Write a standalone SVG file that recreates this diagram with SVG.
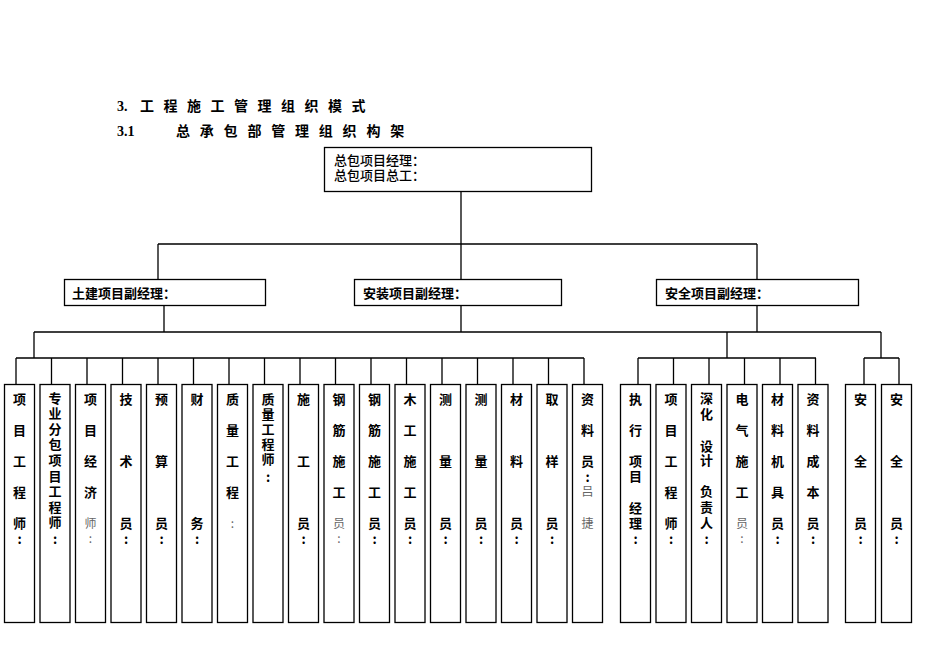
<svg xmlns="http://www.w3.org/2000/svg" width="950" height="672" viewBox="0 0 950 672">
<style>
.bx{fill:#fff;stroke:#000;stroke-width:1.3}
.ln{fill:none;stroke:#000;stroke-width:1.3}
.h{font-family:"Liberation Serif","Noto Sans CJK SC",serif;font-size:14px;font-weight:bold;fill:#000}
.t{font-family:"Noto Sans CJK SC",sans-serif;font-size:13px;font-weight:500;fill:#000}
.m{font-family:"Noto Sans CJK SC",sans-serif;font-size:13px;font-weight:bold;fill:#000}
.v text{font-family:"Noto Sans CJK SC",sans-serif;font-size:13px;font-weight:bold;fill:#000;text-anchor:middle;dominant-baseline:central}
.v text.g{font-size:12px;font-weight:normal;fill:#666}
</style>
<rect width="950" height="672" fill="#fff"/>
<g id="title">
<text class="h" x="117" y="111">3.</text>
<text class="h" text-anchor="middle"><tspan x="147" y="111">工</tspan><tspan x="170.5" y="111">程</tspan><tspan x="194" y="111">施</tspan><tspan x="217.5" y="111">工</tspan><tspan x="241" y="111">管</tspan><tspan x="264.5" y="111">理</tspan><tspan x="288" y="111">组</tspan><tspan x="311.5" y="111">织</tspan><tspan x="335" y="111">模</tspan><tspan x="358.5" y="111">式</tspan></text>
<text class="h" x="117" y="136">3.1</text>
<text class="h" text-anchor="middle"><tspan x="183" y="136">总</tspan><tspan x="206.8" y="136">承</tspan><tspan x="230.6" y="136">包</tspan><tspan x="254.4" y="136">部</tspan><tspan x="278.2" y="136">管</tspan><tspan x="302" y="136">理</tspan><tspan x="325.8" y="136">组</tspan><tspan x="349.6" y="136">织</tspan><tspan x="373.4" y="136">构</tspan><tspan x="397.2" y="136">架</tspan></text>
</g>
<g id="connectors">
<path class="ln" d="M461 191V244M158 244H757M158 244V279M461 244V279M757 244V279M164 305V332M461 305V332M757 305V332M34 332H881M34 332V358M727 332V358M881 332V358"/>
<path class="ln" d="M16 358H584M16 358V384M51.5 358V384M87 358V384M122.5 358V384M158 358V384M193.5 358V384M229 358V384M264.5 358V384M300 358V384M335.5 358V384M371 358V384M406.5 358V384M442 358V384M477.5 358V384M513 358V384M548.5 358V384M584 358V384"/>
<path class="ln" d="M638 358H816M638 358V384M673.5 358V384M709 358V384M744.5 358V384M780 358V384M815.5 358V384M864 358H899M864 358V384M899 358V384"/>
</g>
<g id="n-top"><rect class="bx" x="324.5" y="147.5" width="267" height="44"/><text class="t" x="334" y="165">总包项目经理：</text><text class="t" x="334" y="180">总包项目总工：</text></g>
<g id="n-tujian"><rect class="bx" x="64.5" y="279.5" width="201" height="26"/><text class="m" x="72" y="297.5">土建项目副经理：</text></g>
<g id="n-anzhuang"><rect class="bx" x="354.5" y="279.5" width="207" height="26"/><text class="m" x="363" y="297.5">安装项目副经理：</text></g>
<g id="n-anquan"><rect class="bx" x="656.5" y="279.5" width="202" height="26"/><text class="m" x="665" y="297.5">安全项目副经理：</text></g>
<g id="b1" class="v"><rect class="bx" x="4.5" y="384.5" width="30" height="238"/><text x="19.5" y="398">项</text><text x="19.5" y="429">目</text><text x="19.5" y="460">工</text><text x="19.5" y="491">程</text><text x="19.5" y="522">师</text><text x="19.5" y="538">:</text></g>
<g id="b2" class="v"><rect class="bx" x="40" y="384.5" width="30" height="238"/><text x="55" y="397">专</text><text x="55" y="412.6">业</text><text x="55" y="428.2">分</text><text x="55" y="443.8">包</text><text x="55" y="459.4">项</text><text x="55" y="475">目</text><text x="55" y="490.6">工</text><text x="55" y="506.2">程</text><text x="55" y="521.8">师</text><text x="55" y="538">:</text></g>
<g id="b3" class="v"><rect class="bx" x="75.5" y="384.5" width="30" height="238"/><text x="90.5" y="398">项</text><text x="90.5" y="429">目</text><text x="90.5" y="460">经</text><text x="90.5" y="491">济</text><text class="g" x="90.5" y="522">师</text><text class="g" x="90.5" y="537">:</text></g>
<g id="b4" class="v"><rect class="bx" x="111" y="384.5" width="30" height="238"/><text x="126" y="398">技</text><text x="126" y="460">术</text><text x="126" y="522">员</text><text x="126" y="538">:</text></g>
<g id="b5" class="v"><rect class="bx" x="146.5" y="384.5" width="30" height="238"/><text x="161.5" y="398">预</text><text x="161.5" y="460">算</text><text x="161.5" y="522">员</text><text x="161.5" y="538">:</text></g>
<g id="b6" class="v"><rect class="bx" x="182" y="384.5" width="30" height="238"/><text x="197" y="398">财</text><text x="197" y="522">务</text><text x="197" y="538">:</text></g>
<g id="b7" class="v"><rect class="bx" x="217.5" y="384.5" width="30" height="238"/><text x="232.5" y="398">质</text><text x="232.5" y="429">量</text><text x="232.5" y="460">工</text><text x="232.5" y="491">程</text><text class="g" x="232.5" y="522">:</text></g>
<g id="b8" class="v"><rect class="bx" x="253" y="384.5" width="30" height="238"/><text x="268" y="398">质</text><text x="268" y="413">量</text><text x="268" y="428">工</text><text x="268" y="443">程</text><text x="268" y="458">师</text><text x="268" y="476">:</text></g>
<g id="b9" class="v"><rect class="bx" x="288.5" y="384.5" width="30" height="238"/><text x="303.5" y="398">施</text><text x="303.5" y="460">工</text><text x="303.5" y="522">员</text><text x="303.5" y="538">:</text></g>
<g id="b10" class="v"><rect class="bx" x="324" y="384.5" width="30" height="238"/><text x="339" y="398">钢</text><text x="339" y="429">筋</text><text x="339" y="460">施</text><text x="339" y="491">工</text><text class="g" x="339" y="522">员</text><text class="g" x="339" y="537">:</text></g>
<g id="b11" class="v"><rect class="bx" x="359.5" y="384.5" width="30" height="238"/><text x="374.5" y="398">钢</text><text x="374.5" y="429">筋</text><text x="374.5" y="460">施</text><text x="374.5" y="491">工</text><text x="374.5" y="522">员</text><text x="374.5" y="538">:</text></g>
<g id="b12" class="v"><rect class="bx" x="395" y="384.5" width="30" height="238"/><text x="410" y="398">木</text><text x="410" y="429">工</text><text x="410" y="460">施</text><text x="410" y="491">工</text><text x="410" y="522">员</text><text x="410" y="538">:</text></g>
<g id="b13" class="v"><rect class="bx" x="430.5" y="384.5" width="30" height="238"/><text x="445.5" y="398">测</text><text x="445.5" y="460">量</text><text x="445.5" y="522">员</text><text x="445.5" y="538">:</text></g>
<g id="b14" class="v"><rect class="bx" x="466" y="384.5" width="30" height="238"/><text x="481" y="398">测</text><text x="481" y="460">量</text><text x="481" y="522">员</text><text x="481" y="538">:</text></g>
<g id="b15" class="v"><rect class="bx" x="501.5" y="384.5" width="30" height="238"/><text x="516.5" y="398">材</text><text x="516.5" y="460">料</text><text x="516.5" y="522">员</text><text x="516.5" y="538">:</text></g>
<g id="b16" class="v"><rect class="bx" x="537" y="384.5" width="30" height="238"/><text x="552" y="398">取</text><text x="552" y="460">样</text><text x="552" y="522">员</text><text x="552" y="538">:</text></g>
<g id="b17" class="v"><rect class="bx" x="572.5" y="384.5" width="30" height="238"/><text x="587.5" y="398">资</text><text x="587.5" y="429">料</text><text x="587.5" y="460">员</text><text x="587.5" y="476">:</text><text class="g" x="587.5" y="490">吕</text><text class="g" x="587.5" y="522">捷</text></g>
<g id="c1" class="v"><rect class="bx" x="620.5" y="384.5" width="30" height="238"/><text x="635.5" y="398">执</text><text x="635.5" y="429">行</text><text x="635.5" y="460">项</text><text x="635.5" y="475">目</text><text x="635.5" y="507">经</text><text x="635.5" y="522">理</text><text x="635.5" y="538">:</text></g>
<g id="c2" class="v"><rect class="bx" x="656" y="384.5" width="30" height="238"/><text x="671" y="398">项</text><text x="671" y="429">目</text><text x="671" y="460">工</text><text x="671" y="491">程</text><text x="671" y="522">师</text><text x="671" y="538">:</text></g>
<g id="c3" class="v"><rect class="bx" x="691.5" y="384.5" width="30" height="238"/><text x="706.5" y="397">深</text><text x="706.5" y="413">化</text><text x="706.5" y="445">设</text><text x="706.5" y="459">计</text><text x="706.5" y="490">负</text><text x="706.5" y="506">责</text><text x="706.5" y="522">人</text><text x="706.5" y="538">:</text></g>
<g id="c4" class="v"><rect class="bx" x="727" y="384.5" width="30" height="238"/><text x="742" y="398">电</text><text x="742" y="429">气</text><text x="742" y="460">施</text><text x="742" y="491">工</text><text class="g" x="742" y="522">员</text><text class="g" x="742" y="537">:</text></g>
<g id="c5" class="v"><rect class="bx" x="762.5" y="384.5" width="30" height="238"/><text x="777.5" y="398">材</text><text x="777.5" y="429">料</text><text x="777.5" y="460">机</text><text x="777.5" y="491">具</text><text x="777.5" y="522">员</text><text x="777.5" y="538">:</text></g>
<g id="c6" class="v"><rect class="bx" x="798" y="384.5" width="30" height="238"/><text x="813" y="398">资</text><text x="813" y="429">料</text><text x="813" y="460">成</text><text x="813" y="491">本</text><text x="813" y="522">员</text><text x="813" y="538">:</text></g>
<g id="d1" class="v"><rect class="bx" x="845.5" y="384.5" width="30" height="238"/><text x="860.5" y="398">安</text><text x="860.5" y="460">全</text><text x="860.5" y="522">员</text><text x="860.5" y="538">:</text></g>
<g id="d2" class="v"><rect class="bx" x="881.5" y="384.5" width="30" height="238"/><text x="896.5" y="398">安</text><text x="896.5" y="460">全</text><text x="896.5" y="522">员</text><text x="896.5" y="538">:</text></g>
</svg>
